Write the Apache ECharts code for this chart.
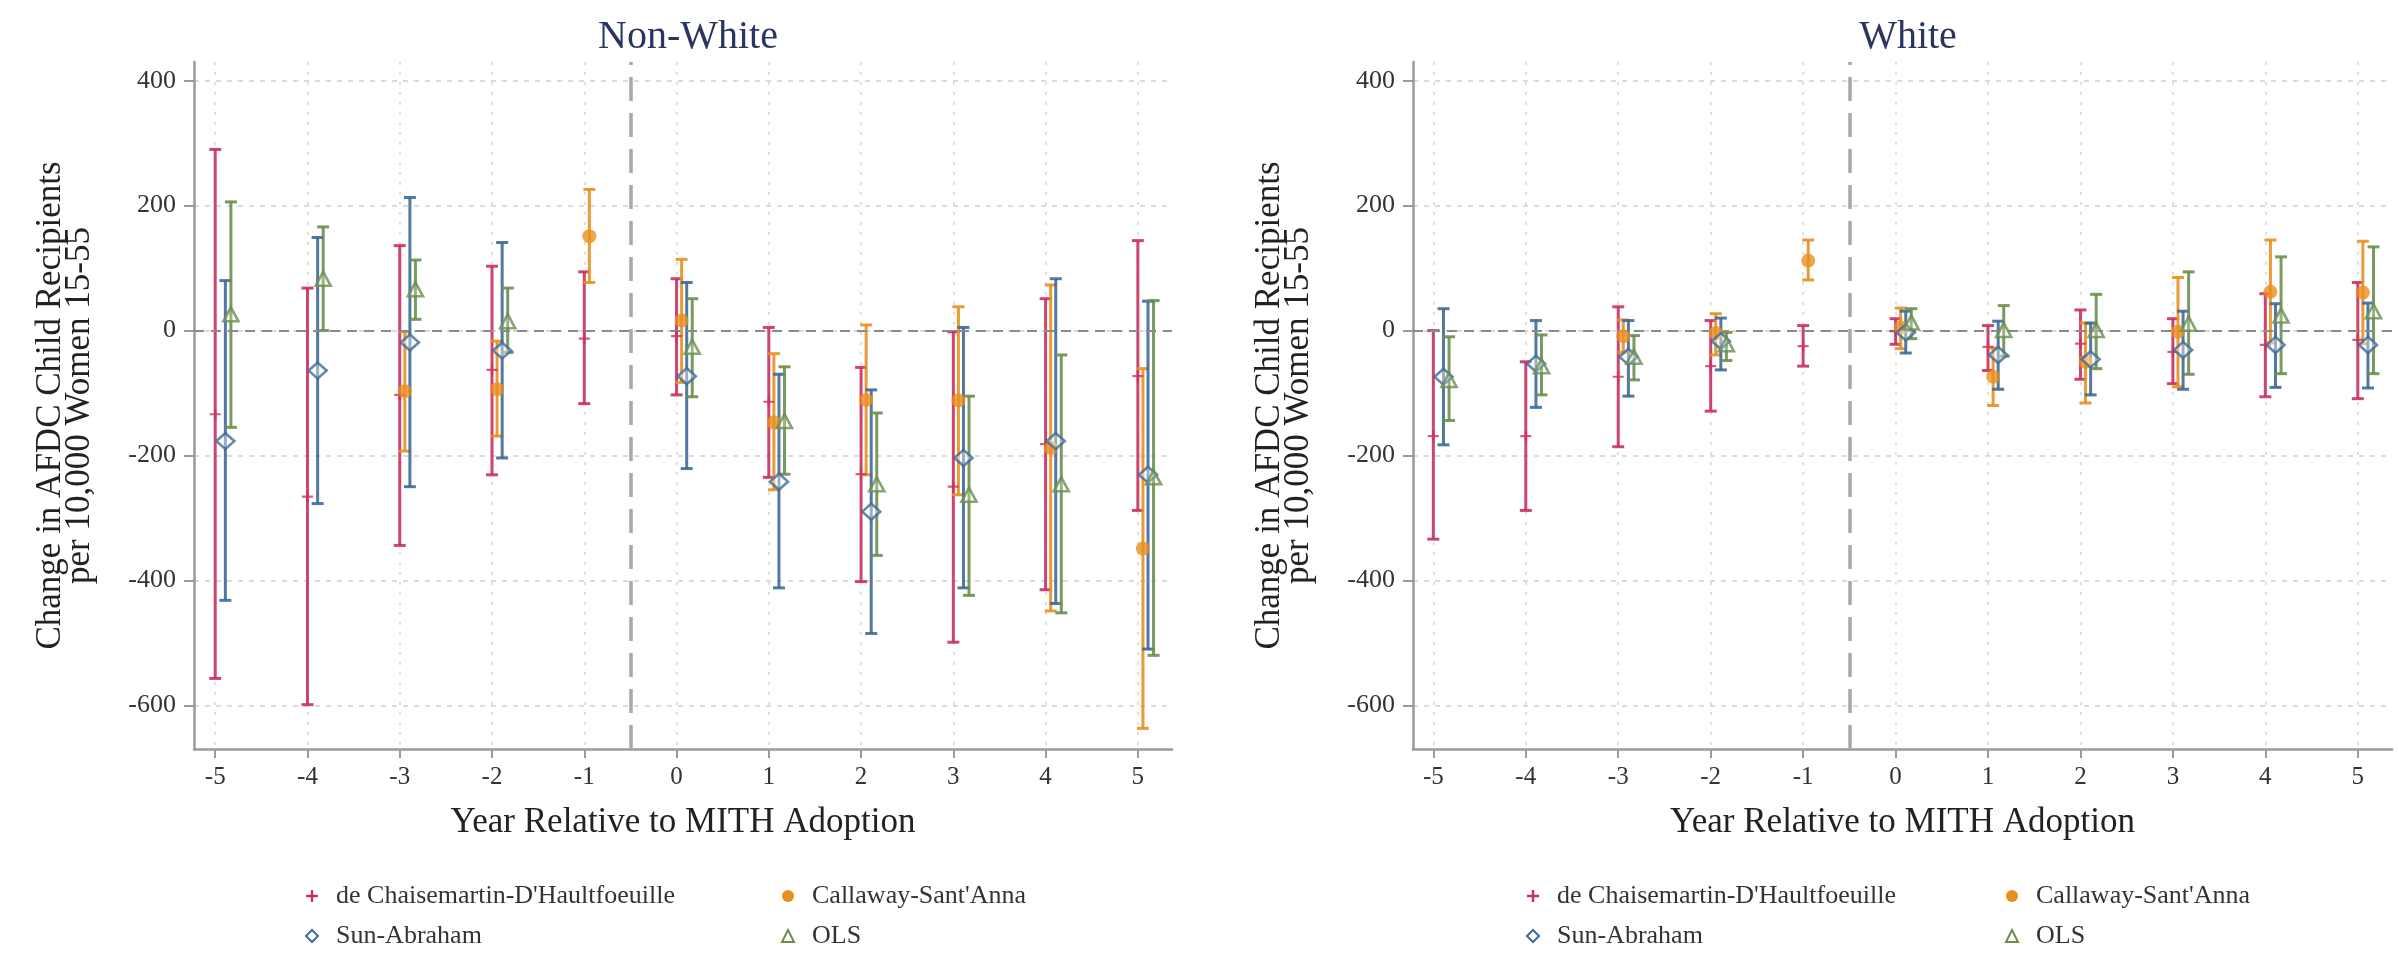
<!DOCTYPE html>
<html>
<head>
<meta charset="utf-8">
<script src="https://cdn.jsdelivr.net/npm/echarts@6/dist/echarts.min.js"></script>
<style>
html,body{margin:0;padding:0;background:#fff;}
#chart{width:2398px;height:957px;}
</style>
</head>
<body>
<div id="chart"></div>
<script>
// ---------- data ----------
const years = [-5, -4, -3, -2, -1, 0, 1, 2, 3, 4, 5];
const yTicks = [-600, -400, -200, 0, 200, 400];
const panelTitles = ['Non-White', 'White'];
const methodNames = ["de Chaisemartin-D'Haultfoeuille", "Callaway-Sant'Anna", "Sun-Abraham", "OLS"];
const xTitle = 'Year Relative to MITH Adoption';
const yTitle = 'Change in AFDC Child Recipients\nper 10,000 Women 15-55';

// Non-White panel
const nwDcdhEst = [-134, -266, -103, -63, -13, -9, -114, -230, -250, -182, -73];
const nwDcdhLo  = [-557, -599, -344, -231, -117, -103, -235, -402, -499, -415, -288];
const nwDcdhHi  = [290, 68, 136, 103, 94, 83, 5, -59, -2, 51, 144];

const nwCsEst = [null, null, -97, -94, 151, 16, -147, -111, -112, -188, -349];
const nwCsLo  = [null, null, -193, -169, 77, -83, -255, -231, -263, -449, -637];
const nwCsHi  = [null, null, -2, -17, 226, 114, -37, 9, 38, 73, -61];

const nwSaEst = [-177, -64, -19, -32, null, -73, -242, -290, -204, -177, -231];
const nwSaLo  = [-432, -277, -250, -204, null, -221, -412, -485, -412, -437, -510];
const nwSaHi  = [80, 149, 213, 141, null, 77, -70, -95, 5, 83, 47];

const nwOlsEst = [26, 83, 66, 15, null, -26, -145, -246, -263, -246, -235];
const nwOlsLo  = [-155, 0, 18, -35, null, -106, -230, -360, -424, -452, -520];
const nwOlsHi  = [206, 166, 113, 68, null, 51, -58, -132, -105, -39, 48];

// White panel
const wDcdhEst = [-169, -169, -74, -57, -25, -1, -26, -21, -34, -23, -15];
const wDcdhLo  = [-334, -288, -186, -129, -57, -22, -64, -78, -85, -106, -109];
const wDcdhHi  = [0, -50, 38, 16, 8, 19, 8, 33, 19, 59, 77];

const wCsEst = [null, null, -9, -4, 112, 5, -74, -50, -2, 62, 61];
const wCsLo  = [null, null, -35, -39, 81, -29, -120, -116, -90, -20, -21];
const wCsHi  = [null, null, 17, 27, 145, 36, -28, 12, 85, 145, 143];

const wSaEst = [-74, -53, -42, -17, null, -3, -39, -46, -31, -23, -23];
const wSaLo  = [-183, -123, -105, -63, null, -36, -94, -103, -94, -91, -92];
const wSaHi  = [35, 16, 16, 20, null, 31, 15, 12, 31, 43, 44];

const wOlsEst = [-79, -57, -42, -22, null, 13, 1, 1, 11, 24, 31];
const wOlsLo  = [-144, -103, -79, -48, null, -13, -41, -61, -70, -69, -69];
const wOlsHi  = [-10, -7, -8, -3, null, 35, 40, 58, 94, 118, 134];

// ---------- styles ----------
const FONT = "'Liberation Serif', 'DejaVu Serif', serif";
const colors = ['#c9325f', '#e8901f', '#3f6a96', '#6b8f4f'];
const offsets = [0, 0.055, 0.11, 0.17];
const plusPath = 'path://M0,4 L10,4 L10,6 L0,6 Z M4,0 L6,0 L6,10 L4,10 Z';
const markerDefs = [
  { symbol: plusPath, size: 11, itemStyle: { color: colors[0] } },
  { symbol: 'circle', size: 14, itemStyle: { color: colors[1] } },
  { symbol: 'diamond', size: [18, 16], itemStyle: { color: 'rgba(255,255,255,0.5)', borderColor: colors[2], borderWidth: 2.6 } },
  { symbol: 'triangle', size: [15, 14], itemStyle: { color: 'rgba(255,255,255,0.3)', borderColor: colors[3], borderWidth: 2.6 } }
];

const panels = [
  { est: [nwDcdhEst, nwCsEst, nwSaEst, nwOlsEst], lo: [nwDcdhLo, nwCsLo, nwSaLo, nwOlsLo], hi: [nwDcdhHi, nwCsHi, nwSaHi, nwOlsHi] },
  { est: [wDcdhEst, wCsEst, wSaEst, wOlsEst], lo: [wDcdhLo, wCsLo, wSaLo, wOlsLo], hi: [wDcdhHi, wCsHi, wSaHi, wOlsHi] }
];

const grids = [
  { left: 194, top: 62, width: 978, height: 687 },
  { left: 1413, top: 62, width: 979, height: 687 }
];
const xRanges = [[-5.23, 5.37], [-5.22, 5.37]];

function ciRows(est, lo, hi, off) {
  const rows = [];
  years.forEach((y, i) => { if (est[i] !== null) rows.push([y + off, lo[i], hi[i]]); });
  return rows;
}
function ptRows(est, off) {
  const rows = [];
  years.forEach((y, i) => { if (est[i] !== null) rows.push([y + off, est[i]]); });
  return rows;
}
function makeRender(color) {
  return function (params, api) {
    const x = api.value(0), lo = api.value(1), hi = api.value(2);
    const a = api.coord([x, lo]), b = api.coord([x, hi]);
    const cap = 6;
    const st = { stroke: color, lineWidth: 3, opacity: 0.9 };
    return {
      type: 'group',
      children: [
        { type: 'line', shape: { x1: a[0], y1: a[1], x2: b[0], y2: b[1] }, style: st },
        { type: 'line', shape: { x1: a[0] - cap, y1: a[1], x2: a[0] + cap, y2: a[1] }, style: st },
        { type: 'line', shape: { x1: b[0] - cap, y1: b[1], x2: b[0] + cap, y2: b[1] }, style: st }
      ]
    };
  };
}

const xAxes = [], yAxes = [], series = [];
[0, 1].forEach(p => {
  xAxes.push({
    gridIndex: p, type: 'value', min: xRanges[p][0], max: xRanges[p][1],
    name: xTitle, nameLocation: 'middle', nameGap: 56,
    nameTextStyle: { fontFamily: FONT, fontSize: 35, color: '#222' },
    axisLine: { show: true, onZero: false, lineStyle: { color: '#9a9a9a', width: 2.5 } },
    axisTick: { show: true, length: 9, customValues: years, lineStyle: { color: '#9a9a9a', width: 2 } },
    axisLabel: { customValues: years, fontFamily: FONT, fontSize: 25, color: '#333', margin: 16 },
    splitLine: { show: true, lineStyle: { color: '#d6d6d6', type: [3, 7], width: 1.5 } }
  });
  yAxes.push({
    gridIndex: p, type: 'value', min: -670, max: 430,
    name: yTitle, nameLocation: 'middle', nameRotate: 90, nameGap: 100,
    nameTextStyle: { fontFamily: FONT, fontSize: 35, lineHeight: 29, color: '#222', align: 'center' },
    axisLine: { show: true, onZero: false, lineStyle: { color: '#9a9a9a', width: 2.5 } },
    axisTick: { show: true, length: 10, customValues: yTicks, lineStyle: { color: '#9a9a9a', width: 2 } },
    axisLabel: { customValues: yTicks, fontFamily: FONT, fontSize: 26, color: '#333', margin: 18 },
    splitLine: { show: true, lineStyle: { color: '#cfcfcf', type: [5, 6], width: 1.5 } }
  });
  const d = panels[p];
  // CI bars
  for (let m = 0; m < 4; m++) {
    series.push({
      type: 'custom', name: methodNames[m], xAxisIndex: p, yAxisIndex: p,
      renderItem: makeRender(colors[m]), z: 2 + m * 0.1,
      data: ciRows(d.est[m], d.lo[m], d.hi[m], offsets[m]),
      encode: { x: 0, y: [1, 2] }, silent: true
    });
  }
  // point markers
  for (let m = 0; m < 4; m++) {
    const s = {
      type: 'scatter', name: methodNames[m], xAxisIndex: p, yAxisIndex: p,
      symbol: markerDefs[m].symbol, symbolSize: markerDefs[m].size,
      itemStyle: markerDefs[m].itemStyle, z: 5,
      data: ptRows(d.est[m], offsets[m]), silent: true
    };
    if (m === 0) {
      s.markLine = {
        silent: true, symbol: 'none', label: { show: false },
        data: [
          { yAxis: 0, lineStyle: { color: '#8a8a8a', type: [10, 7], width: 2 } },
          { xAxis: -0.5, lineStyle: { color: '#a8a8a8', type: [24, 12], width: 3.5 } }
        ]
      };
    }
    series.push(s);
  }
});

const legendItems = [
  { name: methodNames[0], icon: plusPath, itemStyle: { color: colors[0] } },
  { name: methodNames[1], icon: 'circle', itemStyle: { color: colors[1] } },
  { name: methodNames[2], icon: 'diamond', itemStyle: { color: '#fff', borderColor: colors[2], borderWidth: 2 } },
  { name: methodNames[3], icon: 'triangle', itemStyle: { color: '#fff', borderColor: colors[3], borderWidth: 2 } }
];
function legend(left, items) {
  return {
    orient: 'vertical', left: left, top: 878, itemWidth: 12, itemHeight: 12, itemGap: 14,
    selectedMode: false,
    formatter: n => '\u2002' + n,
    textStyle: { fontFamily: FONT, fontSize: 26, color: '#333' },
    data: items
  };
}

const option = {
  backgroundColor: '#ffffff',
  animation: false,
  title: [
    { text: panelTitles[0], left: 683, top: 12, textAlign: 'center', textStyle: { fontFamily: FONT, fontSize: 40, fontWeight: 'normal', color: '#2b3560' } },
    { text: panelTitles[1], left: 1903, top: 12, textAlign: 'center', textStyle: { fontFamily: FONT, fontSize: 40, fontWeight: 'normal', color: '#2b3560' } }
  ],
  legend: [
    legend(300, [legendItems[0], legendItems[2]]),
    legend(776, [legendItems[1], legendItems[3]]),
    legend(1521, [legendItems[0], legendItems[2]]),
    legend(2000, [legendItems[1], legendItems[3]])
  ],
  grid: grids,
  xAxis: xAxes,
  yAxis: yAxes,
  series: series
};

const chart = echarts.init(document.getElementById('chart'), null, { renderer: 'canvas' });
chart.setOption(option);
</script>
</body>
</html>
